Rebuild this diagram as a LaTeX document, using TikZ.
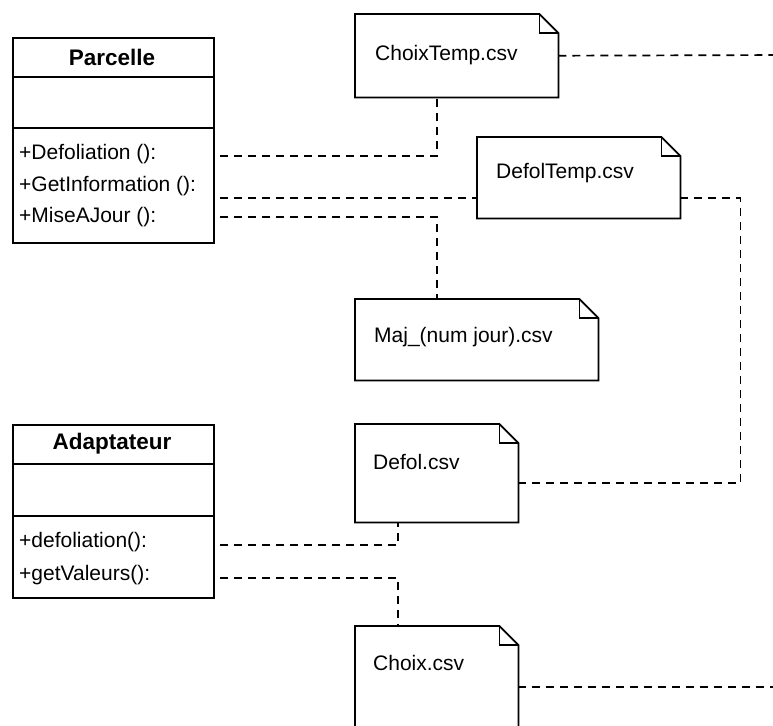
\documentclass[tikz,border=0pt]{standalone}
\usepackage{fontspec}
\setmainfont{Liberation Sans}
\tikzset{
  classbox/.style={draw, line width=1.8pt, minimum width=201pt, anchor=north west, inner sep=0pt},
  sep/.style={line width=1.8pt},
  classname/.style={font=\fontsize{22.5}{26}\selectfont\bfseries, inner sep=0pt},
  methode/.style={font=\fontsize{21}{25}\selectfont, anchor=west, inner sep=0pt},
  fichier/.style={draw=none, minimum width=203pt, anchor=north west, inner sep=0pt},
  fname/.style={font=\fontsize{21}{25}\selectfont, anchor=west, inner sep=0pt},
  link/.style={line width=1.7pt, dash pattern=on 8pt off 6pt},
}
\newcommand{\fold}{19}
% dessine le contour d'un fichier (coin replie)
\newcommand{\docnote}[1]{%
  \draw[line width=1.8pt] (#1.north west) -- ([xshift=-\fold pt]#1.north east)
    -- ([yshift=-\fold pt]#1.north east) -- (#1.south east) -- (#1.south west) -- cycle;
  \draw[line width=1.8pt] ([xshift=-\fold pt]#1.north east)
    |- ([yshift=-\fold pt]#1.north east);
}
\begin{document}
\begin{tikzpicture}[x=1pt,y=-1pt]
\useasboundingbox (0,0) rectangle (773,725);
\clip (0,0) rectangle (773,725);

% classe Parcelle
\node[classbox, minimum height=205pt] (parcelle) at (12,37) {};
\draw[sep] ([yshift=-40pt]parcelle.north west) -- ([yshift=-40pt]parcelle.north east);
\draw[sep] ([yshift=-91pt]parcelle.north west) -- ([yshift=-91pt]parcelle.north east);
\node[classname] (parcelle-nom) at (112,57) {Parcelle};
\node[methode] (m-defol) at (19,154) {+Defoliation ():};
\node[methode] (m-info) at (19,186) {+GetInformation ():};
\node[methode] (m-maj) at (19,217) {+MiseAJour ():};

% classe Adaptateur
\node[classbox, minimum height=173pt] (adapt) at (12,424) {};
\draw[sep] ([yshift=-40pt]adapt.north west) -- ([yshift=-40pt]adapt.north east);
\draw[sep] ([yshift=-92pt]adapt.north west) -- ([yshift=-92pt]adapt.north east);
\node[classname] (adapt-nom) at (112,444) {Adaptateur};
\node[methode] (a-defol) at (19,542) {+defoliation():};
\node[methode] (a-val) at (19,575) {+getValeurs():};

% fichiers
\node[fichier, minimum height=83pt] (choixtemp) at (355,14) {};
\docnote{choixtemp}
\node[fname] (choixtemp-txt) at (375,55) {ChoixTemp.csv};

\node[fichier, minimum height=81pt] (defoltemp) at (477,137) {};
\docnote{defoltemp}
\node[fname] (defoltemp-txt) at (496,173) {DefolTemp.csv};

\node[fichier, minimum width=243pt, minimum height=81pt] (maj) at (355,299) {};
\docnote{maj}
\node[fname] (maj-txt) at (374,337) {Maj\_(num jour).csv};

\node[fichier, minimum width=163pt, minimum height=98pt] (defol) at (355,424) {};
\docnote{defol}
\node[fname] (defol-txt) at (373,462) {Defol.csv};

\node[fichier, minimum width=163pt, minimum height=130pt] (choix) at (355,626) {};
\docnote{choix}
\node[fname] (choix-txt) at (373,663) {Choix.csv};

% points de depart des liens
\coordinate (p-defol) at (220,156);
\coordinate (p-info) at (220,198);
\coordinate (p-maj) at (220,217);
\coordinate (q-defol) at (220,545);
\coordinate (q-val) at (220,578);
\coordinate (bord1) at (790,55);
\coordinate (bord2) at (790,687);

% liens
\draw[link] (p-defol) -| ([xshift=-19.5pt]choixtemp.south);
\draw[link] (choixtemp.east) -- (bord1);
\draw[link] (p-info) -- (p-info -| defoltemp.west);
\draw[link] (p-info -| defoltemp.east) -- ++(60,0) |- ([yshift=-10pt]defol.east);
\draw[link] (p-maj) -| ([xshift=-39.5pt]maj.north);
\draw[link] (q-defol) -| ([xshift=-38.5pt]defol.south);
\draw[link] (q-val) -| ([xshift=-38.5pt]choix.north);
\draw[link] (choix.east |- bord2) -- (bord2);
\end{tikzpicture}
\end{document}
